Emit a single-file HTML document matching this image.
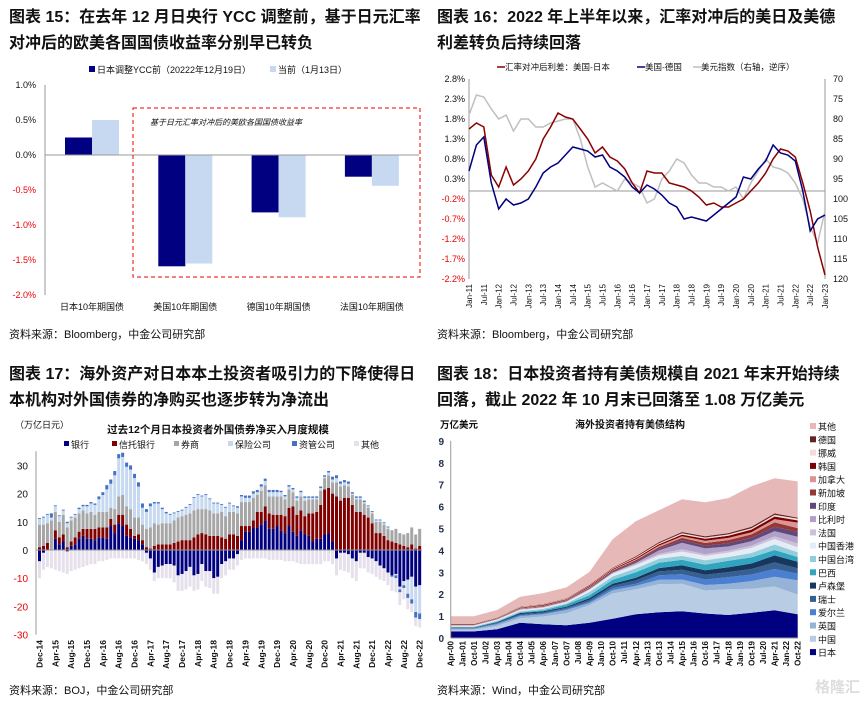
<!DOCTYPE html>
<html><head><meta charset="utf-8"><style>
body{margin:0;background:#fff}
svg{display:block;font-family:"Liberation Sans","Noto Sans CJK SC",sans-serif}
.t{font-size:16px;font-weight:bold;fill:#111}
.s{font-size:11px;fill:#111}
.a{font-size:9px;fill:#111}
.r{fill:#e00}
</style></head><body>
<svg id="svg" width="863" height="704" viewBox="0 0 863 704">
<text class="t" x="9" y="22">图表 15：在去年 12 月日央行 YCC 调整前，基于日元汇率</text>
<text class="t" x="9" y="48">对冲后的欧美各国国债收益率分别早已转负</text>
<text class="t" x="437" y="22">图表 16：2022 年上半年以来，汇率对冲后的美日及美德</text>
<text class="t" x="437" y="48">利差转负后持续回落</text>
<text class="t" x="9" y="379">图表 17：海外资产对日本本土投资者吸引力的下降使得日</text>
<text class="t" x="9" y="405">本机构对外国债券的净购买也逐步转为净流出</text>
<text class="t" x="437" y="379">图表 18：日本投资者持有美债规模自 2021 年末开始持续</text>
<text class="t" x="437" y="405">回落，截止 2022 年 10 月末已回落至 1.08 万亿美元</text>
<text class="s" x="9" y="338">资料来源：Bloomberg，中金公司研究部</text>
<text class="s" x="437" y="338">资料来源：Bloomberg，中金公司研究部</text>
<text class="s" x="9" y="694">资料来源：BOJ，中金公司研究部</text>
<text class="s" x="437" y="694">资料来源：Wind，中金公司研究部</text>
<text x="815" y="692" font-size="15" fill="#ddd" font-weight="bold">格隆汇</text>
<g id="c1"></g>
<g id="c2"></g>
<g id="c3"></g>
<g id="c4"></g>
</svg>
<script>
// ---------- Chart 15 data ----------
const c1Categories=["日本10年期国债","美国10年期国债","德国10年期国债","法国10年期国债"];
const c1Before=[0.25,-1.59,-0.82,-0.31];
const c1Now=[0.5,-1.55,-0.89,-0.44];
const c1Ticks=[1.0,0.5,0.0,-0.5,-1.0,-1.5,-2.0];
// ---------- Chart 16 data (quarterly Jan/Apr/Jul/Oct 2011..2022 + Jan-23) ----------
const c2UsJp=[1.55,1.7,1.6,0.4, 0.1,0.6,0.15,0.3, 0.5,0.8,1.3,1.6, 1.95,1.85,1.8,1.55, 1.3,0.95,1.1,0.85, 0.75,0.55,0.2,-0.05, 0.5,0.45,0.45,0.2, 0.15,0.1,0.0,-0.15, -0.35,-0.3,-0.4,-0.4, -0.3,-0.2,0.0,0.2, 0.45,0.8,1.05,1.0, 0.85,0.2,-0.5,-1.4, -2.1];
const c2UsDe=[0.5,1.15,1.35,0.2, -0.45,-0.2,-0.35,-0.3, -0.2,0.1,0.45,0.6, 0.7,0.9,1.1,1.05, 1.0,0.85,0.9,0.6, 0.5,0.35,0.1,-0.05, 0.15,0.05,-0.1,-0.3, -0.4,-0.7,-0.65,-0.7, -0.75,-0.6,-0.45,-0.3, -0.15,0.35,0.3,0.55, 0.75,1.15,0.95,0.9, 0.75,0.0,-1.0,-0.7, -0.6];
const c2Dxy=[79,74,74.5,77.5, 80,79,83,80, 80,82,82,81, 80.5,80,80,85, 92,97,96,97, 98,95,96,97, 101,100,95,93, 90,91,94,96, 96,97,97,98, 97,100,96,93, 90,92,92.5,93.5, 96,100,107,111, 103];
const c2LeftTicks=[2.8,2.3,1.8,1.3,0.8,0.3,-0.2,-0.7,-1.2,-1.7,-2.2];
const c2RightTicks=[70,75,80,85,90,95,100,105,110,115,120];
const c2XLabels=["Jan-11","Jul-11","Jan-12","Jul-12","Jan-13","Jul-13","Jan-14","Jul-14","Jan-15","Jul-15","Jan-16","Jul-16","Jan-17","Jul-17","Jan-18","Jul-18","Jan-19","Jul-19","Jan-20","Jul-20","Jan-21","Jul-21","Jan-22","Jul-22","Jan-23"];
// ---------- Chart 17 data (monthly Dec-14..Dec-22) ----------
const c3Bank=[-4,-1,0,0,4,2,3,-0.5,1.5,2,4,5,4, 4,3.5,4.5,4.5,4,8.5,6,9.5,8.5,5,4.5,4, 3.5,2,-1,-3,-8,-6,-5.5,-5,-5,-5.5,-9,-8.5, -7.5,-6,-9,-8.5,-5,-7.5,-7.5,-10,-9.5,-5,-4,-3, -3,-1.5,3.5,6.5,6.5,8,8,9,10.5,7.5,7.5,8.5, 7,6,8.5,6.5,5,7,5.5,5,3,4,4,5.5, 6,3,-3,-1,-1,-1.5,-3,-4,-1,-1,-2.5,-3, -4,-5.5,-6.5,-8,-9,-8.5,-13,-11,-10.5,-9.5,-13,-12.5];
const c3Trust=[1,1.5,2.5,0,3,2.5,2.5,1,1.5,2.5,2.5,2.5,3.5, 3.5,4,3.5,3.5,4,2.5,3,3,4,4,3,1, 2,1.5,1,0.5,1.5,2,2,2,2,2.5,3,3.5, 3.5,3.5,4.5,5.5,6,5.5,5,5,5,4.5,4,5.5, 5.5,5,5,2,2,2.5,5.5,4.5,5,5.5,5,4, 5.5,6,6.5,9,7.5,7,6.5,8,10,9.5,12,16, 16,17,19,17.5,18.5,18.5,16,13.5,13.5,12.5,11.5,9.5, 6,6,5,3.5,3,2.5,2,1.5,1,2,0.5,1.5];
const c3Broker=[8,7.5,7,10.5,6.5,5.5,7,7,7.5,7,6.5,6.5,5.5, 6,5,5.5,5.5,5.5,4,5.5,6.5,7,6.5,7,6.5, 6,5.5,6.5,7.5,8,7,7.5,7.5,7.5,8,8.5,8.5, 9,9.5,9.5,9,8.5,9,9,8,8,9,8,8, 8,8,8.5,8.5,8.5,8,6,7.5,7.5,6,6.5,6.5, 6.5,6,6.5,5,5,5,5.5,5,5,4.5,5,4, 4.5,4,5,5,4.5,4,3.5,4.5,4.5,4,3.5,3.5, 4,4,4,4,4,5,4,4,5,6,5,6];
const c3Insur=[2,2.5,3,1,2,2,1.5,1.5,1,1,1.5,1.5,2.5, 3,3.5,4.5,6,8,8.5,12,13.5,13.5,14,14,14, 11,6,6,7.5,7,7.5,5,3.5,3,2.5,2,2, 2.5,3,4.5,5,4.5,5,4,3.5,3.5,2.5,3,3, 2,2,2,1.5,1.5,1.5,1,1.5,1.5,1.5,1.5,1.5, 1.5,1,1,1,1,1.5,1,0.5,0.5,0.5,1,0.5, 1,1,1.5,1,1,1,0.5,0.5,0.5,0.5,0.5,0.5, 0.5,0.5,0.5,0.5,0,-0.5,-1,-1.5,-5,-8,-9,-10];
const c3Asset=[0.3,0.3,0.3,1.5,0.3,0.3,0.3,0.5,0.3,0.3,0.5,0.5,0.5, 0.5,0.5,1,1,1.5,1.5,1.5,1.5,1.5,1.5,1.5,1.5, 1.5,1.5,1,1,0.5,0.5,0.5,0.5,0.3,0.3,0.3,0.3, 0.3,0.3,0.3,0.3,0.3,0.3,0.3,0.3,0.3,0.3,0.3,0.3, 0.3,0.5,0.5,0.8,0.8,0.8,0.8,0.8,0.8,0.8,0.8,0.8, 0.5,0.5,0.5,0.5,0.5,0.5,0.5,0.5,0.5,0.5,0.5,0.5, 0.5,1,1,0.8,0.8,0.8,0.5,0.5,0.5,0.5,0.3,0.3, 0.3,0.3,0.3,0.3,-0.5,-1,-1,-1,-1.5,-1.5,-2,-2];
const c3Other=[-6,-6,-6,-6.5,-7,-7.5,-8,-8,-7.5,-7,-6.5,-6,-5.5, -5,-5,-4,-4,-3.5,-3,-3,-3,-3,-3,-3,-3, -3.5,-4,-4,-4,-3,-4,-4.5,-5,-5,-6,-5.5,-6, -6.5,-7,-5.5,-5.5,-6,-5.5,-6,-5.5,-6,-5,-5,-4, -4,-4,-3.5,-3,-3,-3,-3,-3,-3,-3.5,-3.5,-3.5, -3.5,-4,-4,-4,-4.5,-5,-5,-5,-5,-5,-5,-4, -4,-5,-6,-6,-6.5,-6.5,-7,-7,-5.5,-5.5,-5.5,-5.5, -5.5,-5,-4.5,-4.5,-5,-5,-4.5,-4,-4,-3,-3,-3];
const c3Ticks=[30,20,10,0,-10,-20,-30];
const c3XLabels=["Dec-14","Apr-15","Aug-15","Dec-15","Apr-16","Aug-16","Dec-16","Apr-17","Aug-17","Dec-17","Apr-18","Aug-18","Dec-18","Apr-19","Aug-19","Dec-19","Apr-20","Aug-20","Dec-20","Apr-21","Aug-21","Dec-21","Apr-22","Aug-22","Dec-22"];
// ---------- Chart 18 data (every 18 months Apr-00..Oct-22) ----------
const c4Japan=[0.3,0.3,0.4,0.7,0.63,0.58,0.7,0.88,1.08,1.18,1.22,1.12,1.05,1.15,1.27,1.08];
const c4China=[0.07,0.08,0.15,0.2,0.35,0.55,0.8,1.15,1.15,1.28,1.25,1.05,1.18,1.1,1.08,0.9];
const c4UK=[0.05,0.04,0.08,0.1,0.1,0.15,0.1,0.15,0.15,0.2,0.2,0.25,0.25,0.35,0.45,0.65];
const c4Ireland=[0.02,0.02,0.03,0.04,0.04,0.05,0.06,0.1,0.1,0.2,0.25,0.25,0.3,0.3,0.35,0.3];
const c4Swiss=[0.02,0.02,0.03,0.05,0.05,0.05,0.08,0.1,0.15,0.18,0.2,0.22,0.23,0.25,0.3,0.25];
const c4Lux=[0.02,0.02,0.03,0.05,0.05,0.05,0.08,0.1,0.12,0.15,0.2,0.2,0.22,0.25,0.32,0.3];
const c4Brazil=[0.01,0.01,0.03,0.03,0.05,0.1,0.13,0.18,0.25,0.25,0.25,0.26,0.3,0.28,0.25,0.22];
const c4Taiwan=[0.03,0.03,0.04,0.05,0.06,0.05,0.15,0.15,0.18,0.18,0.18,0.2,0.17,0.2,0.25,0.22];
const c4HK=[0.04,0.04,0.05,0.06,0.05,0.06,0.1,0.13,0.15,0.15,0.2,0.2,0.2,0.24,0.25,0.22];
const c4France=[0.01,0.01,0.01,0.02,0.02,0.02,0.02,0.02,0.05,0.07,0.1,0.08,0.08,0.1,0.12,0.18];
const c4Belgium=[0.01,0.01,0.01,0.01,0.02,0.02,0.02,0.03,0.05,0.16,0.3,0.26,0.2,0.2,0.24,0.3];
const c4India=[0,0,0,0.01,0.01,0.01,0.02,0.04,0.06,0.07,0.12,0.13,0.15,0.16,0.2,0.22];
const c4Singapore=[0.01,0.01,0.02,0.02,0.03,0.03,0.04,0.05,0.06,0.08,0.1,0.12,0.14,0.15,0.2,0.18];
const c4Canada=[0.01,0.01,0.01,0.02,0.02,0.02,0.03,0.03,0.05,0.07,0.08,0.1,0.1,0.1,0.15,0.25];
const c4Korea=[0.02,0.02,0.02,0.03,0.03,0.03,0.04,0.04,0.05,0.06,0.07,0.09,0.1,0.12,0.12,0.1];
const c4Norway=[0.01,0.01,0.01,0.02,0.02,0.02,0.02,0.03,0.04,0.05,0.06,0.06,0.06,0.06,0.07,0.08];
const c4Germany=[0.01,0.01,0.01,0.02,0.02,0.02,0.03,0.03,0.04,0.05,0.06,0.06,0.06,0.07,0.07,0.05];
const c4Others=[0.35,0.35,0.35,0.45,0.5,0.5,0.6,1.3,1.6,1.45,1.5,1.55,1.6,1.85,1.6,1.65];
const c4Ticks=[0,1,2,3,4,5,6,7,8,9];
const c4XLabels=["Apr-00","Jan-01","Oct-01","Jul-02","Apr-03","Jan-04","Oct-04","Jul-05","Apr-06","Jan-07","Oct-07","Jul-08","Apr-09","Jan-10","Oct-10","Jul-11","Apr-12","Jan-13","Oct-13","Jul-14","Apr-15","Jan-16","Oct-16","Jul-17","Apr-18","Jan-19","Oct-19","Jul-20","Apr-21","Jan-22","Oct-22"];

const NS="http://www.w3.org/2000/svg";
function mk(parent,tag,attrs,text){const e=document.createElementNS(NS,tag);for(const k in attrs)e.setAttribute(k,attrs[k]);if(text!==undefined)e.textContent=text;parent.appendChild(e);return e;}

// ===== Chart 15 =====
(function(){
const g=document.getElementById('c1');
const y=v=>155-v*70;
const catX=i=>92+i*93.3;
c1Ticks.forEach(t=>{const e=mk(g,'text',{x:36,y:y(t)+3,'text-anchor':'end','font-size':9,fill:t<0?'#e00':'#111'},t.toFixed(1)+'%');

});
let ax=mk(g,'line',{x1:45,y1:y(1),x2:45,y2:y(-2),stroke:'#999'});


c1Categories.forEach((c,i)=>{
 const b1=mk(g,'rect',{x:catX(i)-27,y:Math.min(y(0),y(c1Before[i])),width:27,height:Math.abs(y(c1Before[i])-y(0)),fill:'#000080'});
 
 
 const b2=mk(g,'rect',{x:catX(i),y:Math.min(y(0),y(c1Now[i])),width:27,height:Math.abs(y(c1Now[i])-y(0)),fill:'#c6d9f1'});
 
 
 const l=mk(g,'text',{x:catX(i),y:310,'text-anchor':'middle','font-size':9,fill:'#111'},c);
 
 
});
let zl=mk(g,'line',{x1:45,y1:y(0),x2:419,y2:y(0),stroke:'#999'});


let box=mk(g,'rect',{x:133,y:108,width:287,height:169,fill:'none',stroke:'#e00','stroke-dasharray':'4,3','stroke-width':1});


let an=mk(g,'text',{x:150,y:125,'font-size':8,'font-style':'italic',fill:'#111'},'基于日元汇率对冲后的美欧各国国债收益率');


let s1=mk(g,'rect',{x:89,y:66,width:6,height:6,fill:'#000080'});
let t1=mk(g,'text',{x:97,y:73,'font-size':9,fill:'#111'},'日本调整YCC前（20222年12月19日）');
let s2=mk(g,'rect',{x:270,y:66,width:6,height:6,fill:'#c6d9f1'});
let t2=mk(g,'text',{x:278,y:73,'font-size':9,fill:'#111'},'当前（1月13日）');
})();

// ===== Chart 16 =====
(function(){
const g=document.getElementById('c2');
const yL=v=>191-v*40, yR=d=>79+(d-70)*4, xM=m=>469+m*356/144;
c2LeftTicks.forEach(t=>{const e=mk(g,'text',{x:465,y:yL(t)+3,'text-anchor':'end','font-size':9,fill:t<0?'#e00':'#111'},t.toFixed(1)+'%');

});
c2RightTicks.forEach(t=>{const e=mk(g,'text',{x:833,y:yR(t)+3,'font-size':9,fill:'#111'},t);

});
c2XLabels.forEach((l,i)=>{const x=xM(i*6);const e=mk(g,'text',{transform:`translate(${x+3},284) rotate(-90)`,'text-anchor':'end','font-size':8,fill:'#111'},l);

});
let a1=mk(g,'line',{x1:469,y1:79,x2:469,y2:279,stroke:'#999'});
let a2=mk(g,'line',{x1:825,y1:79,x2:825,y2:279,stroke:'#999'});
let zl=mk(g,'line',{x1:469,y1:yL(0),x2:825,y2:yL(0),stroke:'#999'});
const path=(arr,fy)=>arr.map((v,i)=>(i?'L':'M')+xM(i*3).toFixed(1)+','+fy(v).toFixed(1)).join('');
let p3=mk(g,'path',{d:path(c2Dxy,yR),fill:'none',stroke:'#bfbfbf','stroke-width':1.5});
let p1=mk(g,'path',{d:path(c2UsJp,yL),fill:'none',stroke:'#8b0000','stroke-width':1.5});
let p2=mk(g,'path',{d:path(c2UsDe,yL),fill:'none',stroke:'#000080','stroke-width':1.5});
const leg=[[497,'#8b0000','汇率对冲后利差：美国-日本'],[637,'#000080','美国-德国'],[693,'#bfbfbf','美元指数（右轴，逆序）']];
leg.forEach(([x,c,t])=>{const l=mk(g,'line',{x1:x,y1:67,x2:x+8,y2:67,stroke:c,'stroke-width':1.5});


const e=mk(g,'text',{x:x+8,y:70,'font-size':8.5,fill:'#111'},t);

});
})();

// ===== Chart 17 =====
(function(){
const g=document.getElementById('c3');
const y=v=>550-v*2.82, xB=i=>38+i*3.96;
const series=[[c3Bank,'#000080'],[c3Trust,'#800000'],[c3Broker,'#a6a6a6'],[c3Insur,'#c6d9f1'],[c3Asset,'#4472c4'],[c3Other,'#e6e0ec']];
const names=['bank','trust-bank','broker','insurance','asset-mgmt','other'];
c3Ticks.forEach(t=>{const e=mk(g,'text',{x:28,y:y(t)+4,'text-anchor':'end','font-size':10,fill:t<0?'#e00':'#111'},t);

});
let ax=mk(g,'line',{x1:36,y1:y(35),x2:36,y2:y(-30),stroke:'#999'});
for(let i=0;i<c3Bank.length;i++){
 let pos=0,neg=0;
 series.forEach(([arr,c],k)=>{const v=arr[i]||0;if(!v)return;
  let y0,y1;if(v>0){y0=pos;pos+=v;y1=pos;}else{y0=neg;neg+=v;y1=neg;}
  const r=mk(g,'rect',{x:xB(i),y:Math.min(y(y0),y(y1)),width:3,height:Math.abs(y(y1)-y(y0)),fill:c});
  
  
 });
}
let zl=mk(g,'line',{x1:36,y1:y(0),x2:422,y2:y(0),stroke:'#999'});
c3XLabels.forEach((l,i)=>{const x=xB(i*4)+1.5;const e=mk(g,'text',{transform:`translate(${x+3},640) rotate(-90)`,'text-anchor':'end','font-size':8.5,'font-weight':'bold',fill:'#111'},l);

});
let ti=mk(g,'text',{x:218,y:433,'text-anchor':'middle','font-size':10.5,'font-weight':'bold',fill:'#111'},'过去12个月日本投资者外国债券净买入月度规模');
let un=mk(g,'text',{x:15,y:428,'font-size':9,fill:'#111'},'（万亿日元）');
const leg=[[64,'银行'],[112,'信托银行'],[174,'券商'],[228,'保险公司'],[292,'资管公司'],[354,'其他']];
leg.forEach(([x,t],k)=>{const s=mk(g,'rect',{x:x,y:441,width:5,height:5,fill:series[k][1]});


const e=mk(g,'text',{x:x+7,y:448,'font-size':9,fill:'#111'},t);

});
})();

// ===== Chart 18 =====
(function(){
const g=document.getElementById('c4');
const y=v=>638-v*21.9, xM=m=>450.7+m*347/270;
const stack=[[c4Japan,'#000080','日本'],[c4China,'#b8cce4','中国'],[c4UK,'#95b3d7','英国'],[c4Ireland,'#4a7fd1','爱尔兰'],[c4Swiss,'#366092','瑞士'],[c4Lux,'#17375e','卢森堡'],[c4Brazil,'#31a5c0','巴西'],[c4Taiwan,'#92cddc','中国台湾'],[c4HK,'#e4ecf5','中国香港'],[c4France,'#ccc0da','法国'],[c4Belgium,'#b1a0c7','比利时'],[c4India,'#60497a','印度'],[c4Singapore,'#953735','新加坡'],[c4Canada,'#d99694','加拿大'],[c4Korea,'#7b0000','韩国'],[c4Norway,'#f2dcdb','挪威'],[c4Germany,'#632523','德国'],[c4Others,'#e6b9b8','其他']];
c4Ticks.forEach(t=>{const e=mk(g,'text',{x:444,y:y(t)+4,'text-anchor':'end','font-size':10,'font-weight':'bold',fill:'#1f2d4d'},t);

});
const n=c4Japan.length;const base=new Array(n).fill(0);
stack.forEach(([arr,c,name])=>{
 const top=base.map((b,i)=>b+arr[i]);
 let d='';for(let i=0;i<n;i++)d+=(i?'L':'M')+xM(i*18).toFixed(1)+','+y(top[i]).toFixed(1);
 for(let i=n-1;i>=0;i--)d+='L'+xM(i*18).toFixed(1)+','+y(base[i]).toFixed(1);
 const p=mk(g,'path',{d:d+'Z',fill:c});
 
 
 for(let i=0;i<n;i++)base[i]=top[i];
});
let ax=mk(g,'line',{x1:450.7,y1:y(9),x2:450.7,y2:y(0),stroke:'#999'});
let xa=mk(g,'line',{x1:450.7,y1:y(0),x2:798,y2:y(0),stroke:'#999'});
c4XLabels.forEach((l,i)=>{const x=xM(i*9);const e=mk(g,'text',{transform:`translate(${x+3},641) rotate(-90)`,'text-anchor':'end','font-size':8,'font-weight':'bold',fill:'#111'},l);

});
let ti=mk(g,'text',{x:630,y:428,'text-anchor':'middle','font-size':10,'font-weight':'bold',fill:'#111'},'海外投资者持有美债结构');
let un=mk(g,'text',{x:440,y:428,'font-size':9.5,'font-weight':'bold',fill:'#111'},'万亿美元');
stack.slice().reverse().forEach(([arr,c,name],k)=>{const yy=427+k*13.3;
 const s=mk(g,'rect',{x:810,y:yy-4,width:6,height:6,fill:c});
 
 
 const e=mk(g,'text',{x:818,y:yy+3,'font-size':9,fill:'#111'},name);
 
 });
})();
</script>
</body></html>
